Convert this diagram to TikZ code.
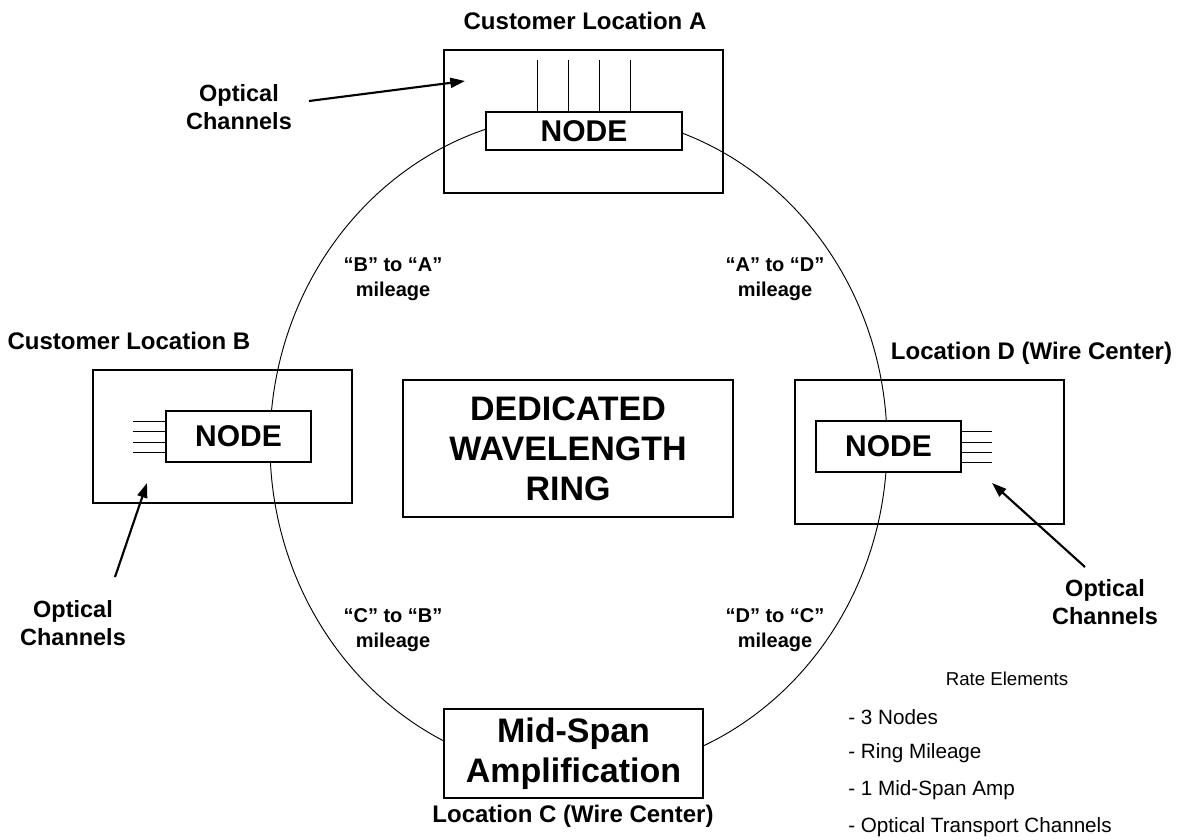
\documentclass[tikz,border=0pt]{standalone}
\usepackage{fontspec}
\setmainfont{Liberation Sans}
\usetikzlibrary{arrows.meta}
\tikzset{
  outerbox/.style={draw, line width=0.9pt, inner sep=0pt},
  nodebox/.style={draw, fill=white, line width=0.9pt, inner sep=0pt, font=\bfseries\fontsize{22.5}{27}\selectfont},
  bigbox/.style={draw, fill=white, line width=0.9pt, inner sep=0pt, align=center, font=\bfseries\fontsize{25.5}{30}\selectfont},
  title/.style={font=\bfseries\fontsize{18}{21}\selectfont, inner sep=0pt},
  optlabel/.style={font=\bfseries\fontsize{17.6}{21.4}\selectfont, align=center, inner sep=0pt},
  mileage/.style={font=\bfseries\fontsize{15}{18.4}\selectfont, align=center, inner sep=0pt},
  rate/.style={font=\fontsize{14}{17}\selectfont, inner sep=0pt},
  rateitem/.style={font=\fontsize{15.5}{18}\selectfont, inner sep=0pt, anchor=west},
  ring/.style={line width=0.7pt},
  chan/.style={line width=0.7pt},
  pointer/.style={line width=1.6pt, -{Triangle[length=11pt, width=7.5pt]}}
}
\begin{document}
\begin{tikzpicture}[x=0.75pt, y=-0.75pt]
\useasboundingbox (0,0) rectangle (1184,839);

% outer location boxes (transparent)
\node[outerbox, minimum width=209.25pt, minimum height=107.25pt] (outA) at (583.5,121.5) {};
\node[outerbox, minimum width=194.25pt, minimum height=99.75pt] (outB) at (222.5,436.5) {};
\node[outerbox, minimum width=201.75pt, minimum height=108pt] (outD) at (929.5,452) {};

% ring
\draw[ring] (578.5,444) ellipse [x radius=231.4pt, y radius=247.5pt];

% central box
\node[bigbox, minimum width=247.5pt, minimum height=102.75pt] (ded) at (568,448.5) {DEDICATED\\WAVELENGTH\\RING};

% node boxes
\node[nodebox, minimum width=147pt, minimum height=28.5pt] (nodeA) at (584,131) {NODE};
\node[nodebox, minimum width=108.75pt, minimum height=38.25pt] (nodeB) at (238.5,436.5) {NODE};
\node[nodebox, minimum width=108.75pt, minimum height=38.25pt] (nodeD) at (888.5,446.5) {NODE};
\node[bigbox, minimum width=194.25pt, minimum height=66.75pt] (mid) at (573.5,753.5) {Mid-Span\\Amplification};

% optical channels
\foreach \x in {537,568,599,630} \draw[chan] (\x,60) -- (\x,112);
\foreach \y in {421,431,442,452} \draw[chan] (133,\y) -- (166,\y);
\foreach \y in {431,442,452,462} \draw[chan] (961,\y) -- (992,\y);

% titles
\node[title] (tA) at (585,21) {Customer Location A};
\node[title] (tB) at (129,341) {Customer Location B};
\node[title] (tD) at (1031.5,353) {Location D (Wire Center)};
\node[title] (tC) at (573,816) {Location C (Wire Center)};

% optical channel labels and pointers
\node[optlabel] (ocA) at (239,107) {Optical\\Channels};
\node[optlabel] (ocB) at (73,623) {Optical\\Channels};
\node[optlabel] (ocD) at (1105,602) {Optical\\Channels};
\coordinate (pA0) at (309,101);
\coordinate (pA1) at (465,81);
\coordinate (pB0) at (115,577);
\coordinate (pB1) at (147,483);
\coordinate (pD0) at (1085,567);
\coordinate (pD1) at (992,483);
\draw[pointer] (pA0) -- (pA1);
\draw[pointer] (pB0) -- (pB1);
\draw[pointer] (pD0) -- (pD1);

% mileage labels
\node[mileage] (mBA) at (393,279) {“B” to “A”\\mileage};
\node[mileage] (mAD) at (775,279) {“A” to “D”\\mileage};
\node[mileage] (mCB) at (393,630) {“C” to “B”\\mileage};
\node[mileage] (mDC) at (775,630) {“D” to “C”\\mileage};

% rate elements
\node[rate] (re) at (1007,679) {Rate Elements};
\node[rateitem] (r1) at (848,717) {- 3 Nodes};
\node[rateitem] (r2) at (848,753) {- Ring Mileage};
\node[rateitem] (r3) at (848,790) {- 1 Mid-Span Amp};
\node[rateitem] (r4) at (848,827) {- Optical Transport Channels};
\end{tikzpicture}
\end{document}
